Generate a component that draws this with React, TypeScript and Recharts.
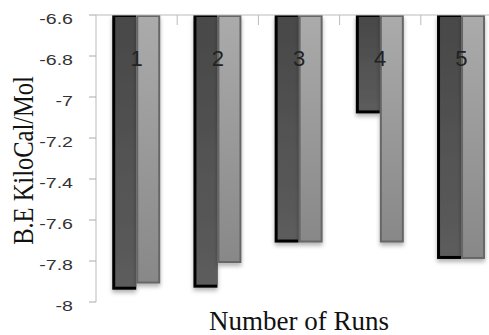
import { BarChart, Bar, XAxis, YAxis, Label } from "recharts";

const runs = ["1", "2", "3", "4", "5"];
const darkSeries = [-7.94, -7.93, -7.71, -7.08, -7.79];
const lightSeries = [-7.91, -7.81, -7.71, -7.71, -7.79];
const yTicks = [-8, -7.8, -7.6, -7.4, -7.2, -7, -6.8, -6.6];

const data = runs.map((r, i) => ({ run: r, a: darkSeries[i], b: lightSeries[i] }));

const CHART_W = 510;
const CHART_H = 335;
const margin = { top: 14, right: 8, left: 36, bottom: 33 };
const Y_AXIS_W = 60;
const plotLeft = margin.left + Y_AXIS_W;
const plotRight = CHART_W - margin.right;
const band = (plotRight - plotLeft) / runs.length;

function norm(p: any) {
  const top = Math.min(p.y, p.y + p.height);
  const h = Math.abs(p.height);
  return { x: p.x, top, w: p.width, h };
}

function DarkBar(props: any) {
  const { x, top, w, h } = norm(props);
  if (h <= 0) return null;
  return (
    <g filter="url(#barShadow)">
      <rect x={x} y={top} width={w} height={h} fill="#000" />
      <rect x={x + 3} y={top + 2} width={Math.max(w - 3, 0)} height={Math.max(h - 5, 0)} fill="url(#darkGrad)" />
    </g>
  );
}

function LightBar(props: any) {
  const { x, top, w, h } = norm(props);
  if (h <= 0) return null;
  return (
    <g filter="url(#barShadow)">
      <rect x={x + 1} y={top + 1} width={w - 2} height={h - 2} fill="url(#lightGrad)" stroke="#666" strokeWidth={2} />
    </g>
  );
}

function RunTick(props: any) {
  const { x, y, payload, index } = props;
  return (
    <g>
      {index > 0 && <line x1={x - band / 2} x2={x - band / 2} y1={y} y2={y + 10} stroke="#bbb" />}
      <text
        x={x}
        y={y + 51}
        textAnchor="middle"
        fontSize={22}
        fontFamily="Liberation Sans, Arial, sans-serif"
        fill="#222"
      >
        {payload.value}
      </text>
    </g>
  );
}

function ValueTick(props: any) {
  const { x, y, payload } = props;
  return (
    <text
      transform={`translate(${x},${y + 4}) scale(1.4,1)`}
      textAnchor="end"
      dominantBaseline="central"
      fontSize={14}
      fontFamily="Liberation Sans, Arial, sans-serif"
      fill="#333"
    >
      {payload.value}
    </text>
  );
}

export default function App() {
  return (
    <div style={{ position: "absolute", left: 0, top: 0, width: 489, height: 335, overflow: "hidden", background: "#fff" }}>
      <BarChart
        width={CHART_W}
        height={CHART_H}
        data={data}
        margin={margin}
        barCategoryGap="20%"
        barGap={0}
      >
        <defs>
          <linearGradient id="darkGrad" x1="0" y1="0" x2="0" y2="1">
            <stop offset="0%" stopColor="#484848" />
            <stop offset="100%" stopColor="#5c5c5c" />
          </linearGradient>
          <linearGradient id="lightGrad" x1="0" y1="0" x2="0" y2="1">
            <stop offset="0%" stopColor="#ababab" />
            <stop offset="100%" stopColor="#888" />
          </linearGradient>
          <filter id="barShadow" x="-20%" y="-5%" width="140%" height="115%">
            <feDropShadow dx="0" dy="3" stdDeviation="2" floodColor="#000" floodOpacity="0.3" />
          </filter>
        </defs>
        <XAxis
          dataKey="run"
          orientation="top"
          height={1}
          axisLine={{ stroke: "#bbb" }}
          tickLine={false}
          tickSize={0}
          tickMargin={0}
          tick={<RunTick />}
          interval={0}
        />
        <YAxis
          type="number"
          domain={[-8, -6.6]}
          ticks={yTicks}
          width={Y_AXIS_W}
          tick={<ValueTick />}
          tickSize={7}
          tickMargin={16}
          axisLine={{ stroke: "#bbb" }}
          tickLine={{ stroke: "#aaa" }}
          allowDataOverflow
        >
          <Label
            content={() => (
              <text
                transform="translate(33, 160.5) rotate(-90) scale(1,1.2)"
                textAnchor="middle"
                fontSize={24.5}
                fontFamily="Liberation Serif, Times New Roman, serif"
                fill="#111"
              >
                B.E KiloCal/Mol
              </text>
            )}
          />
        </YAxis>
        <Bar dataKey="a" shape={<DarkBar />} isAnimationActive={false} />
        <Bar dataKey="b" shape={<LightBar />} isAnimationActive={false} />
      </BarChart>
      <div
        style={{
          position: "absolute",
          left: 0,
          width: 598,
          top: 308,
          textAlign: "center",
          fontSize: 27,
          lineHeight: 1,
          whiteSpace: "nowrap",
          fontFamily: "Liberation Serif, Times New Roman, serif",
          color: "#111",
        }}
      >
        Number of Runs
      </div>
    </div>
  );
}
